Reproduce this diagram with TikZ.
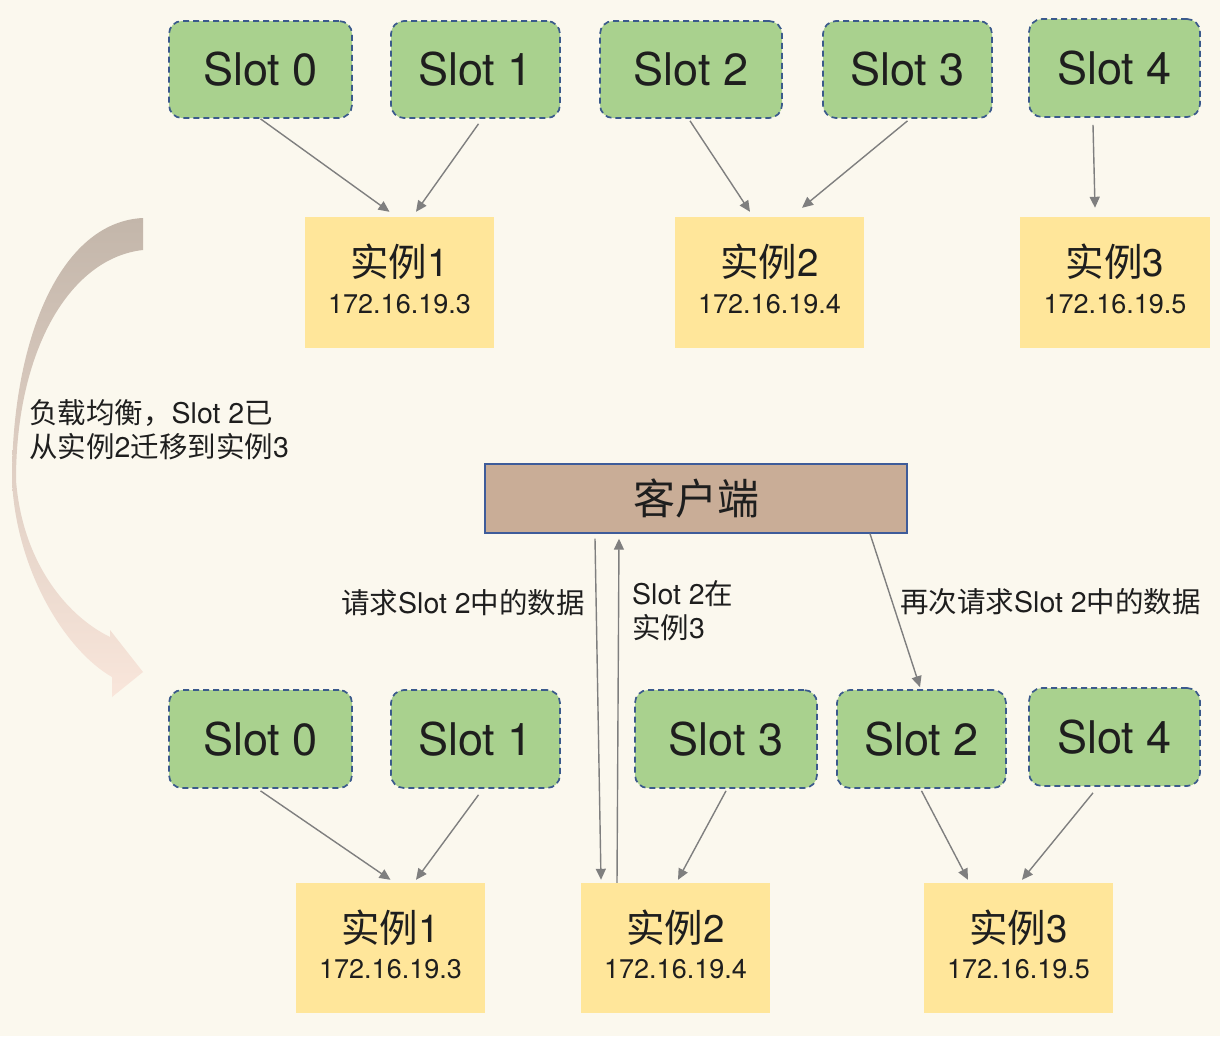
\documentclass[tikz,border=0pt]{standalone}
\usepackage{fontspec}
\setmainfont{TeX Gyre Heros}
\newfontfamily\cjk{Noto Sans CJK SC}
\usetikzlibrary{arrows.meta,calc}
\definecolor{bg}{HTML}{FBF8EE}
\definecolor{slotgreen}{HTML}{A9D18E}
\definecolor{slotedge}{HTML}{3B5A8C}
\definecolor{instyellow}{HTML}{FFE69A}
\definecolor{clientfill}{HTML}{C9AD97}
\definecolor{clientedge}{HTML}{3E5C9A}
\definecolor{arrowgray}{HTML}{7F7F7F}
\definecolor{txt}{HTML}{1E1E1E}
\definecolor{curvetop}{HTML}{C3B6AA}
\definecolor{curvebot}{HTML}{F9E6DB}
\tikzset{
  slotbox/.style={draw=slotedge, fill=slotgreen, line width=1.7pt, dash pattern=on 6pt off 4pt,
    rounded corners=13pt, inner sep=0pt, text=txt, font=\fontsize{45}{45}\selectfont},
  instbox/.style={fill=instyellow, draw=none, inner sep=0pt},
  insttitle/.style={inner sep=0pt, text=txt, font=\fontsize{38.5}{38.5}\selectfont},
  instip/.style={inner sep=0pt, text=txt, font=\fontsize{27}{27}\selectfont},
  clientbox/.style={draw=clientedge, fill=clientfill, line width=1.4pt, inner sep=0pt, text=txt,
    font=\fontsize{42}{42}\selectfont},
  lbl/.style={inner sep=0pt, text=txt, font=\fontsize{28.5}{34}\selectfont},
  conn/.style={draw=arrowgray, line width=1.4pt, -{Triangle[length=11pt,width=10pt]}},
}
\begin{document}
\begin{tikzpicture}[x=1pt,y=-1pt]
\fill[bg] (0,0) rectangle (1220,1036);
\useasboundingbox (0,0) rectangle (1220,1036);

% curved migration arrow
\shade[top color=curvetop, bottom color=curvebot]
  (143,218) .. controls (60,222) and (12,340) .. (12,480)
  .. controls (16,570) and (65,650) .. (112,677)
  -- (112,697) -- (143,672) -- (110,630) -- (110,637)
  .. controls (65,615) and (22,560) .. (16,480)
  .. controls (16,350) and (70,258) .. (143,250) -- cycle;

% ---------- top row ----------
\node[slotbox, minimum width=183pt, minimum height=97pt] (S0) at (260.5,69.5) {Slot 0};
\node[slotbox, minimum width=169pt, minimum height=97pt] (S1) at (475.5,69.5) {Slot 1};
\node[slotbox, minimum width=182pt, minimum height=97pt] (S2) at (691,69.5) {Slot 2};
\node[slotbox, minimum width=169pt, minimum height=97pt] (S3) at (907.5,69.5) {Slot 3};
\node[slotbox, minimum width=171pt, minimum height=98pt] (S4) at (1114.5,68) {Slot 4};

\node[instbox, minimum width=189pt, minimum height=131pt] (I1) at (399.5,282.5) {};
\node[insttitle] (I1a) at ($(I1.center)+(0,-20.5)$) {{\cjk 实例}1};
\node[instip] (I1b) at ($(I1.center)+(0,21.5)$) {172.16.19.3};
\node[instbox, minimum width=189pt, minimum height=131pt] (I2) at (769.5,282.5) {};
\node[insttitle] (I2a) at ($(I2.center)+(0,-20.5)$) {{\cjk 实例}2};
\node[instip] (I2b) at ($(I2.center)+(0,21.5)$) {172.16.19.4};
\node[instbox, minimum width=190pt, minimum height=131pt] (I3) at (1115,282.5) {};
\node[insttitle] (I3a) at ($(I3.center)+(0,-20.5)$) {{\cjk 实例}3};
\node[instip] (I3b) at ($(I3.center)+(0,21.5)$) {172.16.19.5};

\draw[conn] (S0.south) -- ([xshift=-10pt,yshift=5pt]I1.north);
\draw[conn] ([xshift=3pt,yshift=-5pt]S1.south) -- ([xshift=16.5pt,yshift=5pt]I1.north);
\draw[conn] ([xshift=-1pt,yshift=-2pt]S2.south) -- ([xshift=-19.5pt,yshift=5pt]I2.north);
\draw[conn] ([xshift=0pt,yshift=-2pt]S3.south) -- ([xshift=32.5pt,yshift=9pt]I2.north);
\draw[conn] ([xshift=-21.5pt,yshift=-7pt]S4.south) -- ([xshift=-20pt,yshift=9pt]I3.north);

% ---------- migration label ----------
\node[lbl, anchor=west, align=left] (mig) at (29,430) {{\cjk 负载均衡，}Slot 2{\cjk 已}\\{\cjk 从实例}2{\cjk 迁移到实例}3};

% ---------- client ----------
\node[clientbox, minimum width=422pt, minimum height=69pt] (C) at (696,498.5) {\cjk 客户端};

% ---------- bottom row ----------
\node[slotbox, minimum width=183pt, minimum height=98pt] (B0) at (260.5,739) {Slot 0};
\node[slotbox, minimum width=169pt, minimum height=98pt] (B1) at (475.5,739) {Slot 1};
\node[slotbox, minimum width=182pt, minimum height=98pt] (B3) at (726,739) {Slot 3};
\node[slotbox, minimum width=169pt, minimum height=98pt] (B2) at (921.5,739) {Slot 2};
\node[slotbox, minimum width=171pt, minimum height=98pt] (B4) at (1114.5,737) {Slot 4};

\node[instbox, minimum width=189pt, minimum height=130pt] (J1) at (390.5,948) {};
\node[insttitle] (J1a) at ($(J1.center)+(0,-20.5)$) {{\cjk 实例}1};
\node[instip] (J1b) at ($(J1.center)+(0,21.5)$) {172.16.19.3};
\node[instbox, minimum width=189pt, minimum height=130pt] (J2) at (675.5,948) {};
\node[insttitle] (J2a) at ($(J2.center)+(0,-20.5)$) {{\cjk 实例}2};
\node[instip] (J2b) at ($(J2.center)+(0,21.5)$) {172.16.19.4};
\node[instbox, minimum width=189pt, minimum height=130pt] (J3) at (1018.5,948) {};
\node[insttitle] (J3a) at ($(J3.center)+(0,-20.5)$) {{\cjk 实例}3};
\node[instip] (J3b) at ($(J3.center)+(0,21.5)$) {172.16.19.5};

\draw[conn] ([yshift=-2pt]B0.south) -- ([xshift=0pt,yshift=3pt]J1.north);
\draw[conn] ([xshift=3pt,yshift=-6pt]B1.south) -- ([xshift=25.5pt,yshift=3pt]J1.north);
\draw[conn] ([yshift=-2pt]B3.south) -- ([xshift=2.5pt,yshift=3pt]J2.north);
\draw[conn] ([yshift=-2pt]B2.south) -- ([xshift=-50.5pt,yshift=3pt]J3.north);
\draw[conn] ([xshift=-21.5pt,yshift=-6pt]B4.south) -- ([xshift=3.5pt,yshift=3pt]J3.north);

% ---------- client connectors ----------
\draw[conn] ([xshift=-101pt,yshift=-5pt]C.south) -- ([xshift=-74.5pt,yshift=3pt]J2.north);
\draw[conn] ([xshift=-58.5pt]J2.north) -- ([xshift=-77pt,yshift=-5pt]C.south);
\draw[conn] ([xshift=174pt]C.south) -- ([xshift=-1.5pt,yshift=2pt]B2.north);

\node[lbl, anchor=east] (req1) at (585,603) {{\cjk 请求}Slot 2{\cjk 中的数据}};
\node[lbl, anchor=north west, align=left] (resp) at (632,580) {Slot 2{\cjk 在}\\{\cjk 实例}3};
\node[lbl, anchor=west] (req2) at (900,602) {{\cjk 再次请求}Slot 2{\cjk 中的数据}};
\end{tikzpicture}
\end{document}
